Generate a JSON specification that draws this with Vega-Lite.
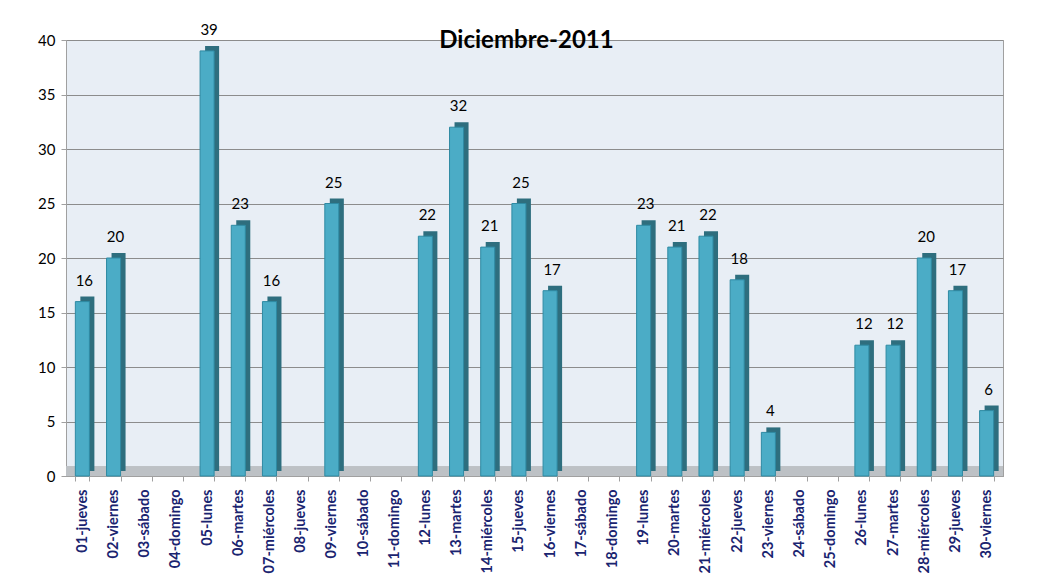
{
  "$schema": "https://vega.github.io/schema/vega-lite/v6.json",
  "width": 937,
  "height": 436,
  "autosize": {"type": "none"},
  "padding": {"left": 66, "top": 40, "right": 35, "bottom": 109},
  "background": "white",
  "title": {
    "text": "Diciembre-2011",
    "font": "Lato",
    "fontSize": 24,
    "fontWeight": "bold",
    "color": "#000000",
    "anchor": "middle",
    "offset": -30,
    "dx": -8
  },
  "config": {
    "view": {"fill": "#E8EEF5", "stroke": "#A0A0A0", "strokeWidth": 1},
    "font": "Lato"
  },
  "data": {
    "values": [
      {"dia": "01-jueves", "valor": 16},
      {"dia": "02-viernes", "valor": 20},
      {"dia": "03-sábado", "valor": null},
      {"dia": "04-domingo", "valor": null},
      {"dia": "05-lunes", "valor": 39},
      {"dia": "06-martes", "valor": 23},
      {"dia": "07-miércoles", "valor": 16},
      {"dia": "08-jueves", "valor": null},
      {"dia": "09-viernes", "valor": 25},
      {"dia": "10-sábado", "valor": null},
      {"dia": "11-domingo", "valor": null},
      {"dia": "12-lunes", "valor": 22},
      {"dia": "13-martes", "valor": 32},
      {"dia": "14-miércoles", "valor": 21},
      {"dia": "15-jueves", "valor": 25},
      {"dia": "16-viernes", "valor": 17},
      {"dia": "17-sábado", "valor": null},
      {"dia": "18-domingo", "valor": null},
      {"dia": "19-lunes", "valor": 23},
      {"dia": "20-martes", "valor": 21},
      {"dia": "21-miércoles", "valor": 22},
      {"dia": "22-jueves", "valor": 18},
      {"dia": "23-viernes", "valor": 4},
      {"dia": "24-sábado", "valor": null},
      {"dia": "25-domingo", "valor": null},
      {"dia": "26-lunes", "valor": 12},
      {"dia": "27-martes", "valor": 12},
      {"dia": "28-miércoles", "valor": 20},
      {"dia": "29-jueves", "valor": 17},
      {"dia": "30-viernes", "valor": 6}
    ]
  },
  "encoding": {
    "x": {
      "field": "dia",
      "type": "nominal",
      "sort": null,
      "scale": {
        "domain": ["01-jueves","02-viernes","03-sábado","04-domingo","05-lunes","06-martes","07-miércoles","08-jueves","09-viernes","10-sábado","11-domingo","12-lunes","13-martes","14-miércoles","15-jueves","16-viernes","17-sábado","18-domingo","19-lunes","20-martes","21-miércoles","22-jueves","23-viernes","24-sábado","25-domingo","26-lunes","27-martes","28-miércoles","29-jueves","30-viernes"],
        "paddingInner": 0.55,
        "paddingOuter": 0.3
      },
      "axis": {
        "title": null,
        "labelAngle": -90,
        "labelFont": "Lato",
        "labelFontSize": 14.5,
        "labelFontWeight": "bold",
        "labelColor": "#1A2470",
        "labelPadding": 8,
        "domainColor": "#A0A0A0",
        "tickColor": "#A0A0A0",
        "tickBand": "extent",
        "tickSize": 5
      }
    },
    "y": {
      "field": "valor",
      "type": "quantitative",
      "scale": {"domain": [0, 40], "nice": false},
      "axis": {
        "title": null,
        "values": [0,5,10,15,20,25,30,35,40],
        "labelFont": "Lato",
        "labelFontSize": 15,
        "labelColor": "#000000",
        "labelPadding": 6,
        "domainColor": "#A0A0A0",
        "tickColor": "#A0A0A0",
        "tickSize": 5,
        "gridColor": "#8C8C8C",
        "gridWidth": 1.2
      }
    }
  },
  "layer": [
    {
      "mark": {"type": "rule", "color": "#BDC1C5", "strokeWidth": 9, "yOffset": -5},
      "encoding": {"y": {"datum": 0}, "x": null}
    },
    {
      "mark": {"type": "bar", "color": "#2E6E7E", "xOffset": 5, "yOffset": -5, "cornerRadius": 0},
      "encoding": {"y": {"field": "valor", "type": "quantitative"}}
    },
    {
      "mark": {"type": "bar", "color": "#4BACC6", "stroke": "#2F8AA3", "strokeWidth": 1},
      "encoding": {"y": {"field": "valor", "type": "quantitative"}}
    },
    {
      "transform": [{"filter": "datum.valor != null"}],
      "mark": {"type": "text", "font": "Lato", "fontSize": 15, "color": "#000000", "dy": -13, "dx": 2, "baseline": "bottom"},
      "encoding": {"text": {"field": "valor", "type": "quantitative"}}
    }
  ]
}
